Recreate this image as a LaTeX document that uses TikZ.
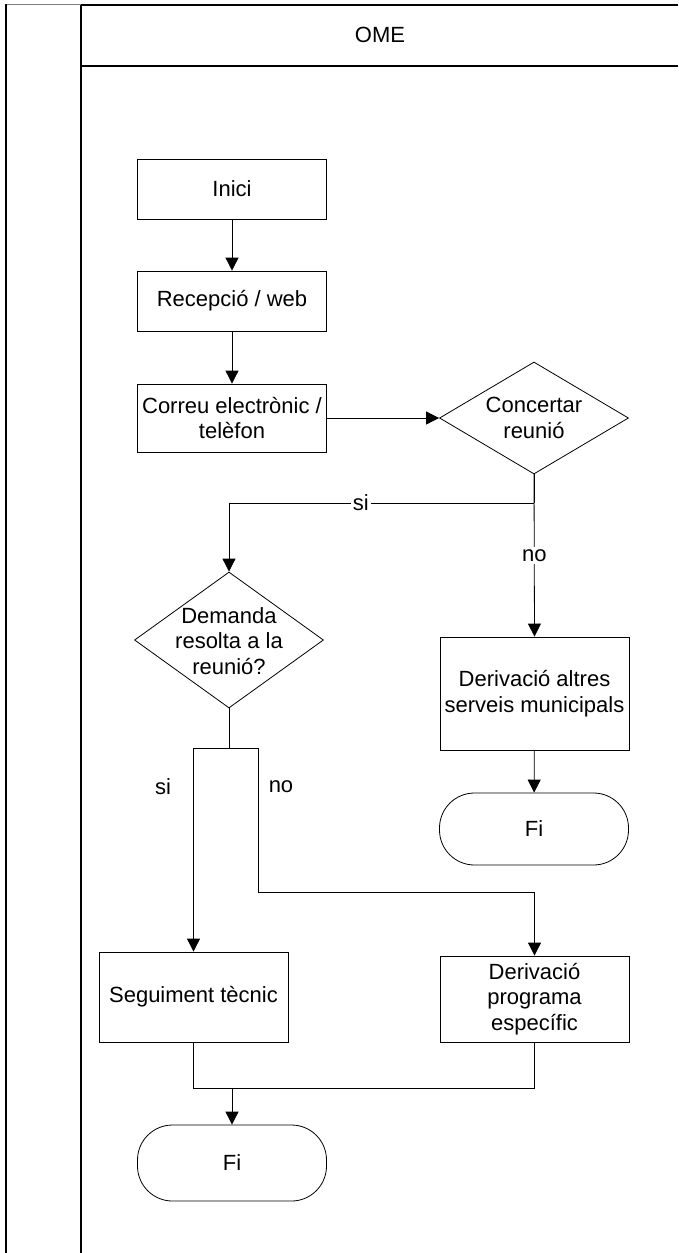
\documentclass[tikz,border=0pt]{standalone}
\usepackage{fontspec}
\setmainfont{Liberation Sans}
\usetikzlibrary{shapes.geometric,arrows.meta}
\begin{document}
\begin{tikzpicture}[x=1pt,y=-1pt,
  every node/.style={font=\fontsize{22}{25.5}\selectfont},
  box/.style={draw, line width=0.8pt, minimum width=189pt, align=center, inner sep=0pt},
  dia/.style={draw, diamond, line width=0.8pt, inner sep=0pt, minimum width=189pt},
  term/.style={draw, rectangle, rounded corners=35pt, line width=0.8pt, minimum width=189pt},
  arr/.style={line width=0.8pt, -{Triangle[length=13pt,width=13pt]}},
  conn/.style={line width=0.8pt},
  lbl/.style={fill=white, inner sep=2pt},
  txt/.style={align=center, inner sep=0pt},
  lane/.style={line width=1.6pt}]
\useasboundingbox (0,0) rectangle (678,1253);

% swimlane frame
\coordinate (tl) at (6,4);
\coordinate (tm) at (81,5);
\coordinate (tr) at (678,5);
\coordinate (hl) at (81,66);
\coordinate (hr) at (678,66);
\coordinate (bl) at (6,1253);
\coordinate (bm) at (81,1253);
\draw[gray, line width=0.8pt] (tl) -- (81,4);
\draw[lane] (tl) -- (bl);
\draw[lane] (tm) -- (bm);
\draw[lane] (tm) -- (tr);
\draw[lane] (hl) -- (hr);
\node (ome) at (380,35) {OME};

% nodes
\node[box, minimum height=60pt] (inici) at (232,189) {Inici};
\node[box, minimum height=60pt] (recep) at (232,301) {Recepció / web};
\node[box, minimum height=68pt] (correu) at (232,418) {Correu electrònic /\\telèfon};
\node[dia, minimum height=112pt] (conc) at (534,418) {};
\node[txt] (conctxt) at (534,418) {Concertar\\reunió};
\node[dia, minimum height=136pt] (dem) at (229,640) {};
\node[txt] (demtxt) at (229,641) {Demanda\\resolta a la\\reunió?};
\node[box, minimum height=113pt] (dalt) at (534.5,693.5) {Derivació altres\\serveis municipals};
\node[term, minimum height=72pt] (fi1) at (534,829) {Fi};
\node[box, minimum height=90pt] (seg) at (193.5,997) {Seguiment tècnic};
\node[box, minimum height=86pt] (dprog) at (534.5,999) {Derivació\\programa\\específic};
\node[term, minimum height=76pt] (fi2) at (232,1163) {Fi};

% connectors
\draw[arr] (inici) -- (recep);
\draw[arr] (recep) -- (correu);
\draw[arr] (correu) -- (conc.west);

\coordinate (j1) at (534,503);
\draw[conn] (conc.south) -- (j1);
\draw[arr] (j1) -| node[lbl, pos=0.284] {si} (dem.north);
\draw[arr] (conc.south) -- node[lbl, pos=0.5] {no} (dalt.north);
\draw[arr] (dalt) -- (fi1);

\coordinate (j2) at (229,748);
\coordinate (ls) at (193.5,748);
\coordinate (rs) at (258,748);
\coordinate (rb) at (258,892);
\draw[conn] (dem.south) -- (j2);
\draw[conn] (ls) -- (rs);
\draw[arr] (ls) -- (seg.north);
\draw[arr] (rs) -- (rb) -| (dprog.north);
\node (si2) at (163,787) {si};
\node (no2) at (281,787) {no};

\coordinate (m1) at (193.5,1088);
\coordinate (m2) at (534.5,1088);
\coordinate (m3) at (232,1088);
\draw[conn] (seg.south) -- (m1) -- (m2) -- (dprog.south);
\draw[arr] (m3) -- (fi2.north);
\end{tikzpicture}
\end{document}
